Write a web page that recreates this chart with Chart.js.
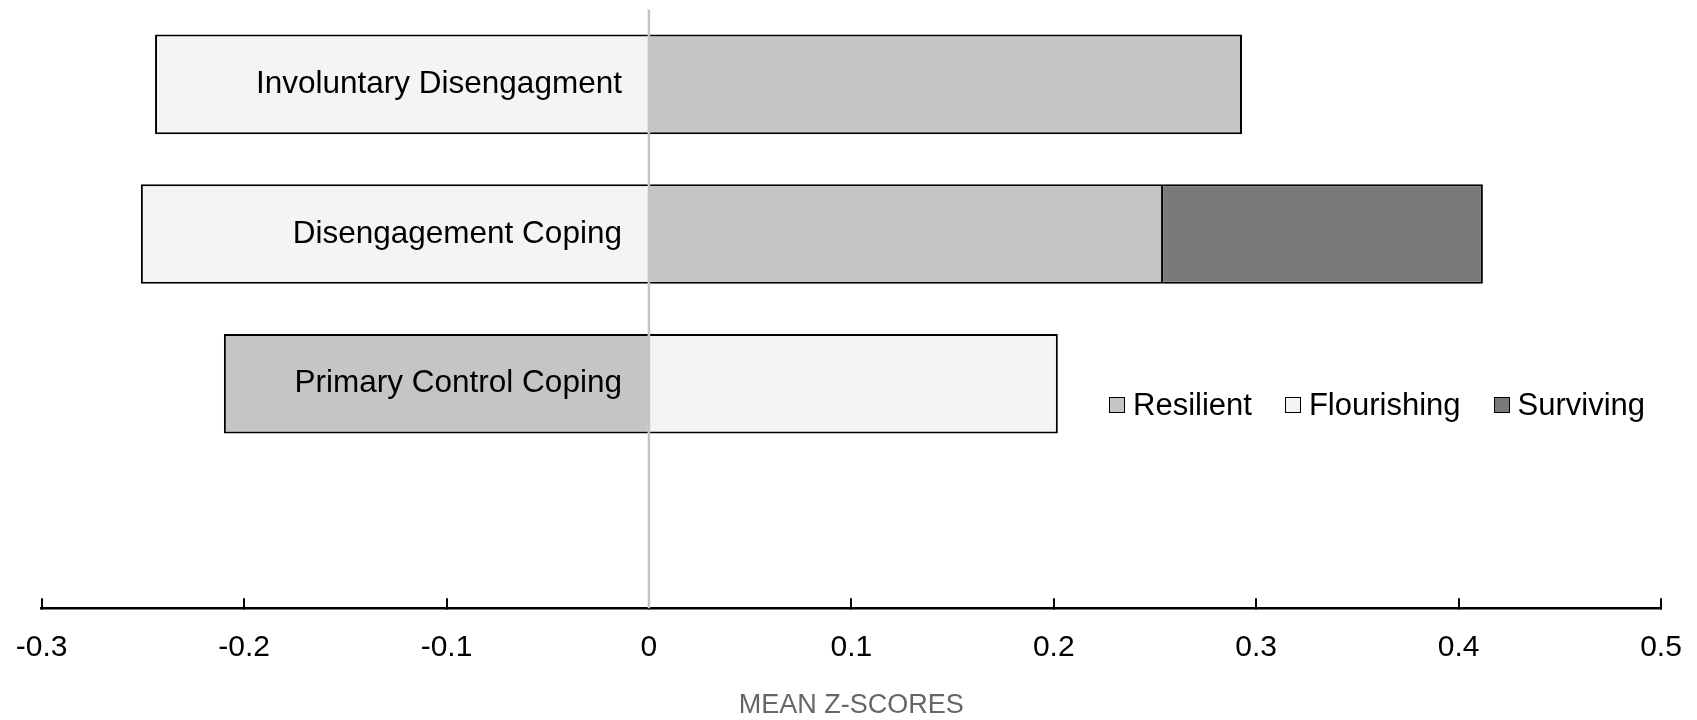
<!DOCTYPE html>
<html>
<head>
<meta charset="utf-8">
<script src="https://cdn.jsdelivr.net/npm/chart.js@4.4.1/dist/chart.umd.min.js"></script>
<style>
  html, body { margin: 0; padding: 0; background: #fff; }
  #wrap { position: relative; width: 1697px; height: 720px; }
  #legend {
    position: absolute; left: 1109px; top: 387px;
    display: flex; align-items: center; gap: 33px;
    font: 31px "Liberation Sans", Arial, sans-serif; line-height: 36px; color: #000;
  }
  .item { display: flex; align-items: center; }
  .box { width: 16px; height: 16px; box-sizing: border-box; border: 1.5px solid #000; margin-right: 8px; }
</style>
</head>
<body>
<div id="wrap">
  <canvas id="chart"></canvas>
  <div id="legend"></div>
</div>
<script>
// --- DATA ---
const categories = ['Involuntary Disengagment', 'Disengagement Coping', 'Primary Control Coping', ''];
const seriesNames = ['Resilient', 'Flourishing', 'Surviving'];
const resilient = [0.293, 0.254, -0.210, null];
const flourishing = [-0.244, -0.251, 0.202, null];
const surviving = [null, 0.158, null, null];
const seriesColors = ['#c6c5c3', '#f4f4f4', '#7a7a7a'];
const xMin = -0.3, xMax = 0.5, xStep = 0.1;
const axisTitle = 'MEAN Z-SCORES';

const FONT = '"Liberation Sans", Arial, sans-serif';
Chart.defaults.font.family = FONT;

function makeDataset(i, values) {
    return {
        label: seriesNames[i],
        data: values,
        backgroundColor: seriesColors[i],
        borderColor: '#000',
        borderWidth: 2,
        borderSkipped: 'start',
        barPercentage: 0.665,
        categoryPercentage: 1
    };
}

// gray zero line and category names, drawn on top of the bars
const zeroLinePlugin = {
    id: 'zeroLine',
    afterDatasetsDraw(chart) {
        const { ctx, chartArea, scales: { x, y } } = chart;
        const x0 = x.getPixelForValue(0);
        ctx.save();
        ctx.strokeStyle = '#c4c4c4';
        ctx.lineWidth = 2.5;
        ctx.beginPath();
        ctx.moveTo(x0, chartArea.top);
        ctx.lineTo(x0, chartArea.bottom);
        ctx.stroke();

        ctx.fillStyle = '#000';
        ctx.font = '31.5px ' + FONT;
        ctx.textAlign = 'right';
        ctx.textBaseline = 'middle';
        categories.forEach((name, i) => {
            if (name) ctx.fillText(name, x0 - 27, y.getPixelForValue(i));
        });
        ctx.restore();
    }
};

new Chart(document.getElementById('chart'), {
    type: 'bar',
    data: {
        labels: categories,
        datasets: [
            makeDataset(0, resilient),
            makeDataset(1, flourishing),
            makeDataset(2, surviving)
        ]
    },
    plugins: [zeroLinePlugin],
    options: {
        indexAxis: 'y',
        responsive: true,
        maintainAspectRatio: false,
        animation: false,
        layout: { padding: { left: 41.7, right: 36, top: 9.5, bottom: 0.8 } },
        plugins: { legend: { display: false }, tooltip: { enabled: false } },
        scales: {
            x: {
                type: 'linear',
                stacked: true,
                min: xMin,
                max: xMax,
                // tick padding should not push the plot inwards
                afterFit: scale => { scale.paddingLeft = 0; scale.paddingRight = 0; },
                ticks: {
                    stepSize: xStep,
                    padding: 31,
                    color: '#000',
                    font: { size: 30 },
                    callback: v => Math.abs(v) < 1e-9 ? '0' : String(Math.round(v * 10) / 10)
                },
                grid: { drawOnChartArea: false, drawTicks: true, tickLength: -10, color: '#000', lineWidth: 2 },
                border: { color: '#000', width: 2.5 },
                title: {
                    display: true,
                    text: axisTitle,
                    color: '#666',
                    font: { size: 27, lineHeight: 0.7 },
                    padding: { top: 0, bottom: 4 }
                }
            },
            y: {
                type: 'category',
                stacked: true,
                display: false
            }
        }
    }
});

// legend built from the series arrays
const legend = document.getElementById('legend');
seriesNames.forEach((name, i) => {
    const item = document.createElement('div');
    item.className = 'item';
    const box = document.createElement('span');
    box.className = 'box';
    box.style.background = seriesColors[i];
    item.appendChild(box);
    item.appendChild(document.createTextNode(name));
    legend.appendChild(item);
});
</script>
</body>
</html>
